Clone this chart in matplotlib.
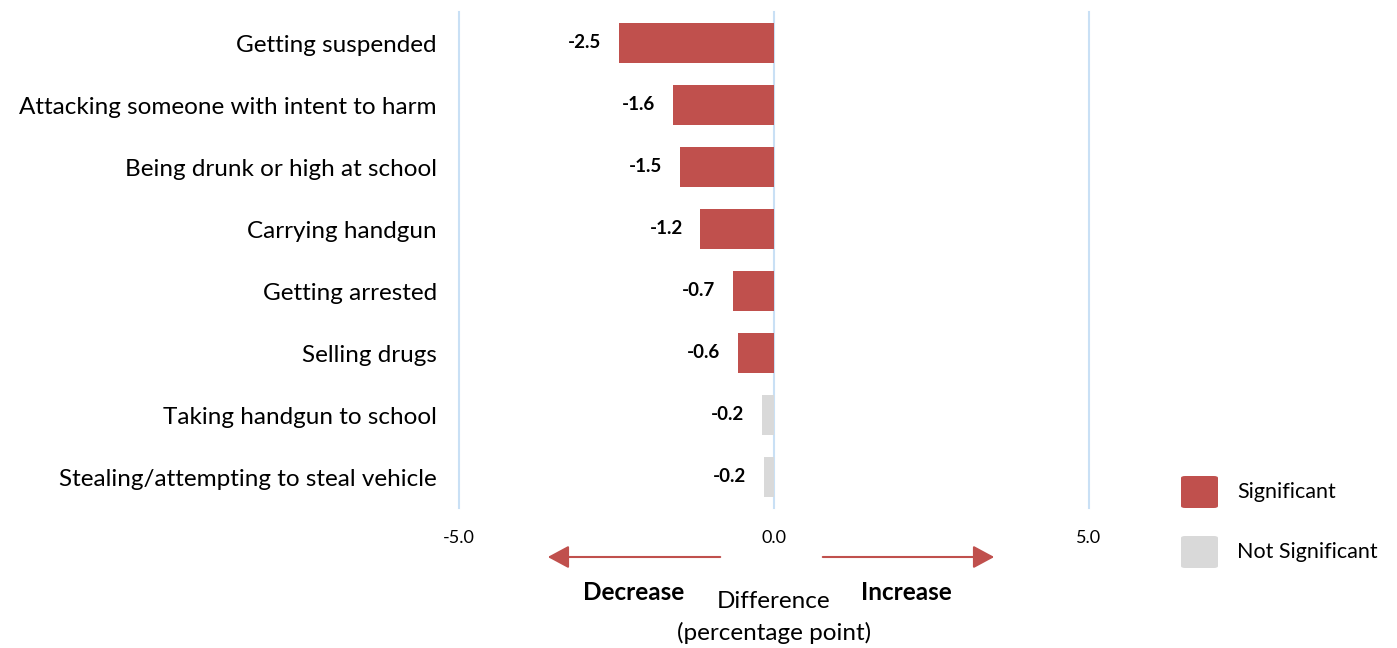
import matplotlib.pyplot as plt
from matplotlib.patches import FancyBboxPatch, FancyArrowPatch

plt.rcParams['font.family'] = ['Lato', 'DejaVu Sans']

# data
behaviors = ['Getting suspended', 'Attacking someone with intent to harm',
             'Being drunk or high at school', 'Carrying handgun',
             'Getting arrested', 'Selling drugs',
             'Taking handgun to school', 'Stealing/attempting to steal vehicle']
differences = [-2.46, -1.61, -1.49, -1.17, -0.65, -0.57, -0.19, -0.16]
significant = [True, True, True, True, True, True, False, False]
x_ticks = [-5.0, 0.0, 5.0]

red = '#C0504D'
grey = '#D9D9D9'
grid_col = '#C9E0F5'

fig = plt.figure(figsize=(13.97, 6.48), dpi=100)
ax = fig.add_axes([459 / 1397, 140 / 648, 630 / 1397, 496 / 648])

y = list(range(len(behaviors)))
colors = [red if s else grey for s in significant]
ax.barh(y, differences, height=0.65, color=colors, zorder=3)

for xv in x_ticks:
    ax.axvline(xv, color=grid_col, lw=1.5, zorder=1, clip_on=False)

for yi, v in zip(y, differences):
    ax.text(v - 0.28, yi, f'{v:.1f}', ha='right', va='center',
            fontsize=13.5, fontweight='bold', color='black')

ax.set_xlim(-5, 5)
ax.set_ylim(len(behaviors) - 0.5, -0.5)
ax.set_yticks(y)
ax.set_yticklabels(behaviors, fontsize=17.5)
ax.set_xticks(x_ticks)
ax.set_xticklabels([f'{t:.1f}' for t in x_ticks], fontsize=13)
ax.tick_params(length=0)
ax.tick_params(axis='x', pad=16)
ax.tick_params(axis='y', pad=16)
for s in ax.spines.values():
    s.set_visible(False)

# arrows under the axis
for x0, x1 in [(723, 545), (820, 997)]:
    fig.add_artist(FancyArrowPatch(
        (x0 / 1397, 1 - 557 / 648), (x1 / 1397, 1 - 557 / 648),
        transform=fig.transFigure, arrowstyle='-|>,head_length=13,head_width=7',
        color=red, lw=1.5, mutation_scale=1))

fig.text(634 / 1397, 1 - 593 / 648, 'Decrease', ha='center', va='center',
         fontsize=17.5, fontweight='bold')
fig.text(906 / 1397, 1 - 593 / 648, 'Increase', ha='center', va='center',
         fontsize=17.5, fontweight='bold')
fig.text(774 / 1397, 1 - 602 / 648, 'Difference', ha='center', va='center',
         fontsize=17.5)
fig.text(774 / 1397, 1 - 633 / 648, '(percentage point)', ha='center',
         va='center', fontsize=17.5)

# legend
for col, label, yc in [(red, 'Significant', 492), (grey, 'Not Significant', 552)]:
    fig.add_artist(FancyBboxPatch(
        (1181 / 1397, 1 - (yc + 16) / 648), 37 / 1397, 32 / 648,
        boxstyle='round,pad=0,rounding_size=0.003', transform=fig.transFigure,
        facecolor=col, edgecolor='none'))
    fig.text(1237 / 1397, 1 - yc / 648, label, ha='left', va='center',
             fontsize=15.5)

fig.savefig('out.png', dpi=100)
